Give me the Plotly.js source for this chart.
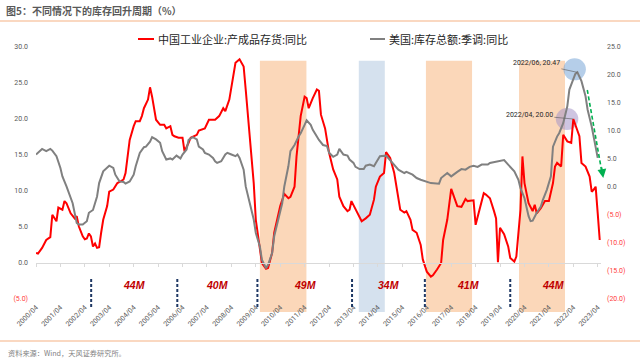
<!DOCTYPE html>
<html><head><meta charset="utf-8">
<script src="https://cdn.plot.ly/plotly-3.0.1.min.js"></script>
<style>html,body{margin:0;padding:0;background:#fff}#c{width:640px;height:363px}</style>
</head><body><div id="c"></div>
<script>
const redName = '中国工业企业:产成品存货:同比';
const grayName = '美国:库存总额:季调:同比';

const redDates = ['2000-04','2000-05','2000-07','2000-09','2000-11','2000-12','2001-02','2001-03','2001-05','2001-06','2001-07','2001-09','2001-11','2001-12',
'2002-01','2002-03','2002-04','2002-05','2002-06','2002-07','2002-08','2002-09','2002-10','2002-11','2002-12','2003-01','2003-03','2003-04','2003-06','2003-08','2003-10','2003-11','2003-12',
'2004-02','2004-04','2004-05','2004-07','2004-08','2004-09','2004-11','2004-12','2005-01','2005-03','2005-05','2005-07','2005-08','2005-10','2005-11','2005-12',
'2006-02','2006-04','2006-05','2006-07','2006-08','2006-11','2006-12','2007-03','2007-05','2007-08','2007-10','2007-12','2008-01','2008-03','2008-05','2008-06','2008-08','2008-10','2008-11',
'2009-01','2009-03','2009-04','2009-06','2009-07','2009-09','2009-10','2009-12','2010-01','2010-04','2010-06','2010-08','2010-09','2010-11','2010-12',
'2011-02','2011-04','2011-05','2011-06','2011-08','2011-10','2011-11','2011-12','2012-02','2012-04','2012-06','2012-08','2012-09','2012-11',
'2013-01','2013-02','2013-03','2013-05','2013-06','2013-08','2013-10','2013-12','2014-02','2014-03','2014-05','2014-07','2014-08','2014-10','2014-12',
'2015-02','2015-03','2015-05','2015-06','2015-08','2015-09','2015-11','2016-01','2016-02','2016-04','2016-06','2016-07','2016-09','2016-11','2016-12',
'2017-02','2017-04','2017-06','2017-07','2017-09','2017-11','2017-12','2018-02','2018-03','2018-04','2018-06','2018-08','2018-09','2018-11',
'2019-01','2019-02','2019-03','2019-04','2019-06','2019-08','2019-09','2019-11','2019-12','2020-02','2020-03','2020-04','2020-05','2020-06','2020-08','2020-09','2020-10','2020-12',
'2021-02','2021-04','2021-06','2021-07','2021-08','2021-10','2021-11','2022-01','2022-03','2022-04','2022-05','2022-07','2022-08','2022-10','2022-12',
'2023-01','2023-02','2023-03','2023-04','2023-05'];
const redVals = [1.4,1.3,2.1,3.2,3.6,6.7,5.8,7.7,7.4,8.6,8.3,6.9,6.2,6.5,
5.1,3.7,3.3,3.4,4.1,3.7,2.3,2.7,2.1,2.2,4.2,6.0,7.9,9.9,10.2,11.1,11.4,11.6,12.5,
17.1,19.0,19.7,19.7,20.4,21.5,22.7,24.4,23.1,19.9,19.2,19.2,18.7,19.0,17.8,17.6,
17.4,17.4,15.5,16.7,17.4,17.8,18.4,18.7,19.9,19.9,20.4,21.5,21.1,22.7,25.9,27.8,28.3,27.3,24.1,
17.1,11.1,6.0,2.3,0.0,-0.8,-0.7,1.4,4.2,7.9,9.6,9.0,9.2,10.6,14.8,
20.4,23.1,22.9,21.5,22.9,24.1,23.9,20.6,18.7,15.3,13.0,11.6,9.2,7.9,
7.2,7.4,8.6,7.4,6.9,5.8,6.2,6.7,8.8,10.6,12.0,12.5,15.4,14.6,12.5,
8.8,7.4,7.0,7.2,6.0,4.6,4.2,2.5,0.5,-1.2,-1.9,-1.7,-0.9,0.0,3.2,
6.0,10.3,8.6,7.9,7.8,8.9,8.6,8.7,8.7,5.3,7.6,9.7,9.5,9.0,
7.2,6.2,0.1,4.9,4.0,2.3,0.7,0.2,0.9,7.4,14.8,11.1,9.7,8.3,7.2,8.1,6.9,7.6,
8.6,8.6,11.1,13.4,13.9,13.4,17.8,16.9,16.7,20.0,19.2,17.6,13.9,13.4,12.0,
9.9,10.2,10.6,6.9,3.2];

const grayDates = ['2000-04','2000-07','2000-09','2000-11','2000-12','2001-02','2001-04','2001-05','2001-07','2001-09','2001-10','2001-12',
'2002-01','2002-03','2002-05','2002-06','2002-08','2002-10','2002-11','2003-01','2003-03','2003-04','2003-06','2003-07','2003-09','2003-11','2003-12',
'2004-02','2004-04','2004-05','2004-07','2004-09','2004-10','2004-12','2005-01','2005-03','2005-05','2005-06','2005-08','2005-10','2005-11',
'2006-01','2006-03','2006-04','2006-06','2006-07','2006-09','2006-11','2006-12','2007-02','2007-03','2007-05','2007-07','2007-08','2007-09','2007-10','2007-11',
'2008-01','2008-02','2008-04','2008-06','2008-07','2008-08','2008-10','2008-11','2009-01','2009-03','2009-04','2009-06','2009-07','2009-09','2009-10','2009-12',
'2010-01','2010-03','2010-05','2010-06','2010-08','2010-09','2010-11','2011-01','2011-02','2011-04','2011-05','2011-07','2011-08','2011-10','2011-11',
'2012-01','2012-03','2012-04','2012-06','2012-08','2012-09','2012-11','2013-01','2013-02','2013-04','2013-05','2013-07','2013-09','2013-10','2013-12',
'2014-02','2014-03','2014-05','2014-08','2014-11','2015-02','2015-05','2015-06','2015-09','2015-11',
'2016-01','2016-04','2016-06','2016-10','2016-11','2017-02','2017-04','2017-07','2017-09','2017-11','2018-01','2018-03','2018-05','2018-07','2018-10','2018-11',
'2019-02','2019-04','2019-06','2019-08','2019-11','2020-01','2020-02','2020-04','2020-06','2020-07','2020-08','2020-10','2020-12',
'2021-01','2021-03','2021-05','2021-06','2021-08','2021-09','2021-11','2022-01','2022-02','2022-04','2022-05','2022-06','2022-08','2022-10','2022-11',
'2023-01','2023-03','2023-04'];
const grayVals = [5.8,6.8,6.4,6.8,6.5,5.5,3.4,1.9,0.1,-1.7,-2.9,-6.4,
-6.7,-6.7,-6.1,-4.6,-4.1,-1.7,0.7,2.8,3.4,3.8,3.4,2.2,1.0,0.9,0.6,
1.0,2.2,3.7,6.1,7.1,7.2,8.1,8.9,8.5,7.9,6.4,4.9,5.1,4.9,
5.6,5.1,5.8,6.7,8.4,8.9,8.5,7.2,6.7,6.1,5.8,5.2,4.6,4.3,4.5,4.6,
5.8,6.1,5.8,5.5,5.8,5.2,3.1,0.1,-2.9,-5.8,-8.2,-10.6,-13.0,-14.5,-13.9,-11.8,
-8.8,-5.8,-2.9,0.1,3.7,6.4,7.5,9.0,9.6,11.1,11.9,11.1,10.2,9.0,8.4,
7.5,7.3,6.1,5.4,5.8,6.8,5.8,5.6,4.9,4.3,3.6,3.2,3.2,3.8,4.0,
3.7,4.3,5.5,5.6,4.3,3.1,2.5,2.7,2.2,1.6,
1.3,1.0,0.7,0.6,1.6,2.5,1.9,2.7,3.2,3.1,3.6,3.8,3.6,4.0,4.0,4.3,
4.5,4.6,4.8,4.0,2.8,1.3,-0.2,-2.0,-5.2,-6.1,-6.0,-4.6,-3.5,
-2.3,-0.5,1.9,7.2,9.0,9.6,11.4,14.4,17.4,19.2,20.2,20.47,18.9,16.2,13.8,
10.8,7.2,5.2];

const tickDates = ['2000-04-01','2001-04-01','2002-04-01','2003-04-01','2004-04-01','2005-04-01','2006-04-01','2007-04-01','2008-04-01','2009-04-01','2010-04-01','2011-04-01',
'2012-04-01','2013-04-01','2014-04-01','2015-04-01','2016-04-01','2017-04-01','2018-04-01','2019-04-01','2020-04-01','2021-04-01','2022-04-01','2023-04-01'];
const tickLabels = ['2000/04','2001/04','2002/04','2003/04','2004/04','2005/04','2006/04','2007/04','2008/04','2009/04','2010/04','2011/04',
'2012/04','2013/04','2014/04','2015/04','2016/04','2017/04','2018/04','2019/04','2020/04','2021/04','2022/04','2023/04'];
const leftTicks = [-5,0,5,10,15,20,25,30];
const rightTicks = [-20,-15,-10,-5,0,5,10,15,20,25];

const phaseStart = ['2009-06-01','2013-06-19','2016-03-19','2020-01-10'];
const phaseEnd   = ['2011-04-28','2014-07-13','2018-02-07','2021-11-28'];
const phaseKind  = ['up','down','up','up'];
const cycleBounds = ['2002-07-05','2006-01-13','2009-04-25','2013-03-10','2016-03-03','2019-09-01','2023-03-15'];
const cycleLabels = ['44M','40M','49M','34M','41M','44M'];

const peakRed = {x:'2022-04', y:20.00, label:'2022/04, 20.00'};
const peakGray = {x:'2022-06', y:20.47, label:'2022/06, 20.47'};

// layout geometry (plot area in px)
const L = 36, R = 601, T = 47, B = 299;
const W = R - L, H = B - T;
const px2x = px => (px - L) / W;
const py2y = py => (B - py) / H;

const fmt = v => v < 0 ? '<span style="color:#ff4040">(' + Math.abs(v).toFixed(1) + ')</span>' : v.toFixed(1);
const numFont = 'Roboto, "Noto Sans CJK SC", sans-serif';
const cjkFont = '"Noto Sans CJK SC", sans-serif';

const traces = [
  {x: redDates, y: redVals, type:'scatter', mode:'lines', name: redName, yaxis:'y',
   line:{color:'#ff0000', width:2}, showlegend:false},
  {x: grayDates, y: grayVals, type:'scatter', mode:'lines', name: grayName, yaxis:'y2',
   line:{color:'#808080', width:2}, showlegend:false},
  {x: [], y: [], xaxis:'x2', yaxis:'y', type:'scatter', mode:'lines', showlegend:false, hoverinfo:'skip'}
];

const shapes = [];
phaseStart.forEach((s, i) => {
  shapes.push({type:'rect', xref:'x', yref:'paper', x0:s, x1:phaseEnd[i], y0:py2y(312), y1:py2y(60.7),
    fillcolor: phaseKind[i] === 'up' ? '#fbd7b9' : '#d5e1ee', line:{width:0}, layer:'below'});
});
cycleBounds.slice(0, -1).forEach(d => {
  shapes.push({type:'line', xref:'x', yref:'paper', x0:d, x1:d, y0:py2y(307), y1:py2y(278),
    line:{color:'#1f3864', width:2, dash:'3px,2px'}});
});
shapes.push({type:'circle', xref:'x', yref:'y2', xsizemode:'pixel', ysizemode:'pixel',
  xanchor:peakGray.x, yanchor:peakGray.y, x0:-14, x1:8.5, y0:-8, y1:14,
  fillcolor:'rgba(120,165,215,0.55)', line:{width:0}, layer:'below'});
shapes.push({type:'circle', xref:'x', yref:'y', xsizemode:'pixel', ysizemode:'pixel',
  xanchor:peakRed.x, yanchor:peakRed.y, x0:-17.5, x1:5, y0:-11, y1:11,
  fillcolor:'rgba(165,150,200,0.55)', line:{width:0}, layer:'below'});
// green dashed trend arrow
shapes.push({type:'line', xref:'paper', yref:'paper', x0:px2x(587.3), y0:py2y(90), x1:px2x(601.5), y1:py2y(170),
  line:{color:'#00b050', width:1.6, dash:'4px,2.5px'}});
// legend swatches
shapes.push({type:'line', xref:'paper', yref:'paper', x0:px2x(138), x1:px2x(154), y0:py2y(39), y1:py2y(39), line:{color:'#ff0000', width:2}});
shapes.push({type:'line', xref:'paper', yref:'paper', x0:px2x(370), x1:px2x(385), y0:py2y(39), y1:py2y(39), line:{color:'#808080', width:2}});
// header / footer rules
shapes.push({type:'line', xref:'paper', yref:'paper', x0:px2x(0), x1:px2x(640), y0:py2y(21), y1:py2y(21), line:{color:'#f8cbad', width:1.5}});
shapes.push({type:'line', xref:'paper', yref:'paper', x0:px2x(0), x1:px2x(640), y0:py2y(341), y1:py2y(341), line:{color:'#f8cbad', width:1.5}});

const annotations = [];
cycleLabels.forEach((t, i) => {
  const a = new Date(cycleBounds[i]).getTime(), b = new Date(cycleBounds[i+1]).getTime();
  const mid = new Date((a + b) / 2).toISOString().slice(0, 10);
  annotations.push({x:mid, y:py2y(292.7), xref:'x', yref:'paper', text:'<b><i>' + t + '</i></b>', showarrow:false,
    font:{family:'"Liberation Sans", Arial, sans-serif', size:10.5, color:'#c00000'}});
});
annotations.push({x:peakGray.x, y:peakGray.y, xref:'x', yref:'y2', text:peakGray.label, showarrow:true,
  arrowhead:0, arrowwidth:0.6, arrowcolor:'#595959', ax:-41, ay:-9, font:{family:numFont, size:7, color:'#262626'}});
annotations.push({x:peakRed.x, y:peakRed.y, xref:'x', yref:'y', text:peakRed.label, showarrow:true,
  arrowhead:0, arrowwidth:0.6, arrowcolor:'#595959', ax:-44, ay:-4, font:{family:numFont, size:7, color:'#262626'}});
annotations.push({x:px2x(603.3), y:py2y(178), xref:'paper', yref:'paper', text:'', showarrow:true,
  arrowhead:2, arrowsize:1.1, arrowwidth:1.6, arrowcolor:'#00b050', ax:-2, ay:-12});
annotations.push({x:px2x(156), y:py2y(39), xref:'paper', yref:'paper', xanchor:'left', yanchor:'middle', showarrow:false,
  text:redName, font:{family:cjkFont, size:11, color:'#262626'}});
annotations.push({x:px2x(387), y:py2y(39), xref:'paper', yref:'paper', xanchor:'left', yanchor:'middle', showarrow:false,
  text:grayName, font:{family:cjkFont, size:11, color:'#262626'}});
annotations.push({x:px2x(6), y:py2y(353), xref:'paper', yref:'paper', xanchor:'left', yanchor:'middle', showarrow:false,
  text:'资料来源：Wind，天风证券研究所。', font:{family:cjkFont, size:7.2, color:'#7f7f7f'}});

const xRange = ['2000-04-01', '2023-05-20'];
const layout = {
  width:640, height:363,
  margin:{l:L, r:640-R, t:T, b:363-B, pad:0},
  paper_bgcolor:'#ffffff', plot_bgcolor:'rgba(0,0,0,0)',
  title:{text:'图5：不同情况下的库存回升周期（%）', x:6/640, xanchor:'left', xref:'container', y:1-11.5/363, yanchor:'middle',
    font:{family:cjkFont, size:10, color:'#595959', weight:'bold'}},
  xaxis:{type:'date', range:xRange, showgrid:false, zeroline:false, showline:false, ticks:'',
    tickmode:'array', tickvals:tickDates, ticktext:tickLabels, tickangle:-45,
    tickfont:{family:numFont, size:7, color:'#595959'}, ticklabelstandoff:2},
  xaxis2:{type:'date', range:xRange, overlaying:'x', anchor:'free', position:5/35, side:'bottom',
    showgrid:false, zeroline:false, showline:true, linecolor:'#d9d9d9', linewidth:1,
    ticks:'outside', ticklen:3, tickcolor:'#d9d9d9', tickmode:'array', tickvals:tickDates, showticklabels:false},
  yaxis:{range:[-5,30], domain:[0,1], showgrid:false, zeroline:false, showline:false, ticks:'',
    tickmode:'array', tickvals:leftTicks, ticktext:leftTicks.map(fmt),
    tickfont:{family:numFont, size:7, color:'#595959'}, ticklabelstandoff:7},
  yaxis2:{range:[-20,25], overlaying:'y', side:'right', showgrid:false, zeroline:false, showline:false, ticks:'',
    tickmode:'array', tickvals:rightTicks, ticktext:rightTicks.map(fmt),
    tickfont:{family:numFont, size:7, color:'#595959'}, ticklabelstandoff:5},
  showlegend:false,
  shapes:shapes, annotations:annotations
};
Plotly.newPlot('c', traces, layout, {displayModeBar:false, staticPlot:true});
</script></body></html>
